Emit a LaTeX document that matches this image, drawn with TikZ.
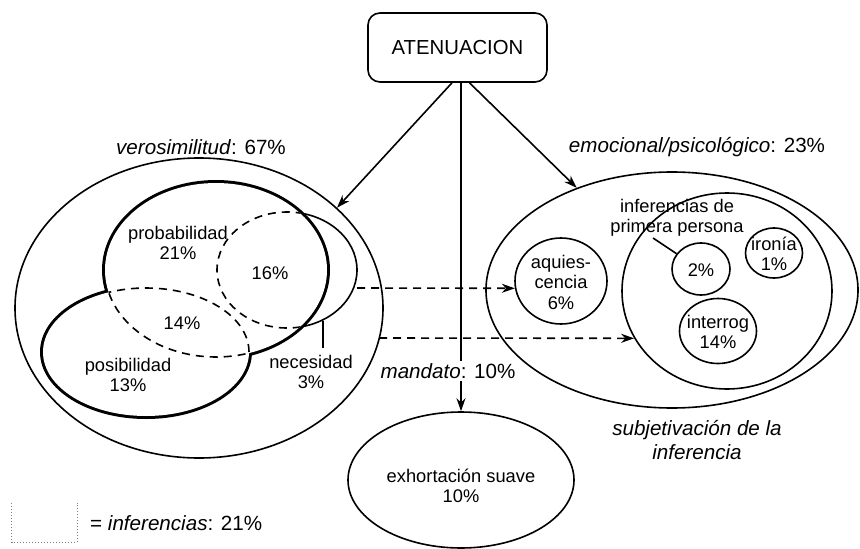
\documentclass[tikz,border=0pt]{standalone}
\usepackage{fontspec}
\setmainfont{Liberation Sans}
\usetikzlibrary{shapes.geometric,arrows.meta}
\begin{document}
\begin{tikzpicture}[x=1pt,y=-1pt,
  thinln/.style={line width=1.6pt},
  shp/.style={draw,line width=1.6pt,ellipse,inner sep=0pt},
  lbl/.style={font=\fontsize{18.3}{20.5}\selectfont,align=center,inner sep=0pt},
  biglbl/.style={font=\fontsize{20.6}{24}\selectfont,align=center,inner sep=0pt},
  arr/.style={line width=1.6pt,-{Stealth[length=13pt,width=9pt]}},
  darr/.style={arr,dash pattern=on 8pt off 6pt},
  dsh/.style={line width=1.6pt,dash pattern=on 8pt off 6pt},
  legst/.style={draw=gray,line width=0.8pt,dash pattern=on 1pt off 2pt}]
\useasboundingbox (0,0) rectangle (860,549);

% top box
\node[draw,line width=1.6pt,rounded corners=12pt,minimum width=179pt,minimum height=69pt,inner sep=0pt,font=\fontsize{20.3}{24}\selectfont] (atn) at (457.5,47.5) {ATENUACION};

% left group
\node[shp,minimum width=368pt,minimum height=300pt] (ver) at (199,308) {};
\node[biglbl] (verl) at (201,147) {\textit{verosimilitud}: 67\%};

\draw[line width=6pt] (216,270) ellipse [x radius=111pt,y radius=87pt];
\draw[line width=6pt] (146,352) ellipse [x radius=103pt,y radius=64pt];
\draw[thinln] (287,270) ellipse [x radius=70pt,y radius=58pt];
\fill[white] (216,270) ellipse [x radius=111pt,y radius=87pt];
\fill[white] (146,352) ellipse [x radius=103pt,y radius=64pt];
\begin{scope}
  \clip (216,270) ellipse [x radius=111pt,y radius=87pt];
  \draw[dsh] (146,352) ellipse [x radius=103pt,y radius=64pt];
  \draw[dsh] (287,270) ellipse [x radius=70pt,y radius=58pt];
\end{scope}
\begin{scope}
  \clip (146,352) ellipse [x radius=103pt,y radius=64pt];
  \draw[dsh] (216,270) ellipse [x radius=111pt,y radius=87pt];
\end{scope}

\node[lbl] (prob) at (178,243) {probabilidad\\21\%};
\node[lbl] (p16) at (270,273) {16\%};
\node[lbl] (p14) at (182,323) {14\%};
\node[lbl] (pos) at (128,375) {posibilidad\\13\%};
\node[lbl] (necl) at (311,372) {necesidad\\3\%};
\coordinate (necp) at (323,321);
\coordinate (necq) at (323,348);
\draw[thinln] (necp) -- (necq);

% right group
\node[shp,minimum width=372pt,minimum height=236pt] (emo) at (672,290) {};
\node[biglbl] (emol) at (697,147) {\textit{emocional/psicológico}: 23\%};
\node[shp,minimum width=210pt,minimum height=196pt] (sub) at (727,291) {};
\node[biglbl] (subl) at (697,440) {\textit{subjetivación de la}\\\textit{inferencia}};
\node[shp,minimum width=92pt,minimum height=86pt] (aq) at (561,281) {};
\node[lbl] (aqt) at (561,282) {aquies-\\cencia\\6\%};
\node[shp,minimum width=58pt,minimum height=52pt] (p2) at (701,269) {};
\node[lbl] (p2t) at (701,270) {2\%};
\node[shp,minimum width=57pt,minimum height=50pt] (ir) at (774,253) {};
\node[lbl] (irt) at (774,254) {ironía\\1\%};
\node[shp,minimum width=77pt,minimum height=65pt] (int) at (718,331) {};
\node[lbl] (intt) at (718,332) {interrog\\14\%};
\node[lbl] (ppl) at (677,218) {inferencias de\\primera persona};
\coordinate (ppc) at (653,238);
\draw[thinln] (ppc) -- (p2.148);

% bottom
\node[shp,minimum width=226pt,minimum height=136pt] (exh) at (461,480) {};
\node[lbl] (exht) at (461,486) {exhortación suave\\10\%};

% arrows
\draw[arr] ([xshift=-5.5pt]atn.south) -- (ver.36);
\draw[arr] ([xshift=12pt]atn.south) -- (emo.133);
\draw[arr] (atn.south -| exh.north) -- (exh.north);
\node[biglbl,fill=white,inner sep=2pt] (mand) at (448,371) {\textit{mandato}: 10\%};

\coordinate (d1) at (357,288);
\draw[darr] (d1) -- (aq.189);
\coordinate (d2) at (379,338);
\draw[darr] (d2) -- (sub.207);

% legend
\node[minimum width=65pt,minimum height=39pt,inner sep=0pt] (leg) at (44.5,522.5) {};
\draw[legst] (leg.north west) -- (leg.south west) -- (leg.south east) -- (leg.north east);
\node[biglbl,anchor=west] (legt) at (90,523) {= \textit{inferencias}: 21\%};
\end{tikzpicture}
\end{document}
